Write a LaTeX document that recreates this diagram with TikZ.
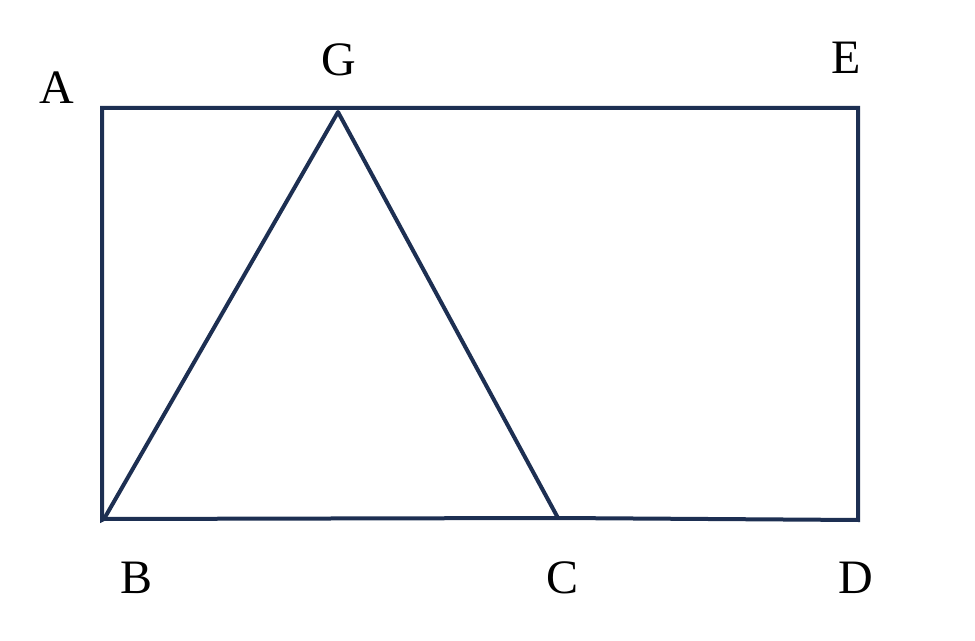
\documentclass[tikz,border=0pt]{standalone}
\usepackage{fontspec}
\setmainfont{Liberation Serif}
\definecolor{navy}{RGB}{29,47,82}
\tikzset{every picture/.style={line width=3pt}}
\tikzset{lbl/.style={font=\fontsize{36}{40}\selectfont}}

\begin{document}
\begin{tikzpicture}[x=0.75pt,y=0.75pt,yscale=-1,xscale=1]
	\useasboundingbox (0,0) rectangle (975,641);

	% corners
	\coordinate (cA) at (102,108);
	\coordinate (cE) at (858,108);
	\coordinate (cD) at (858,520);
	\coordinate (cB) at (104,519);
	\coordinate (cG) at (338,112);
	\coordinate (cC) at (558,518);

	%Shape: Rectangle
	\draw [navy, line join=miter] (cA) -- (cE) -- (cD) -- (cC) -- (cB) -- (102,520) -- cycle ;
	%Shape: Triangle
	\draw [navy, line join=round] (cB) -- (cG) -- (cC) ;

	% Text Node
	\node [lbl] (A) at (57,88) {A};
	\node [lbl] (G) at (339,60) {G};
	\node [lbl] (E) at (846,58) {E};
	\node [lbl] (B) at (137,578) {B};
	\node [lbl] (C) at (563,578) {C};
	\node [lbl] (D) at (856,578) {D};

\end{tikzpicture}
\end{document}
